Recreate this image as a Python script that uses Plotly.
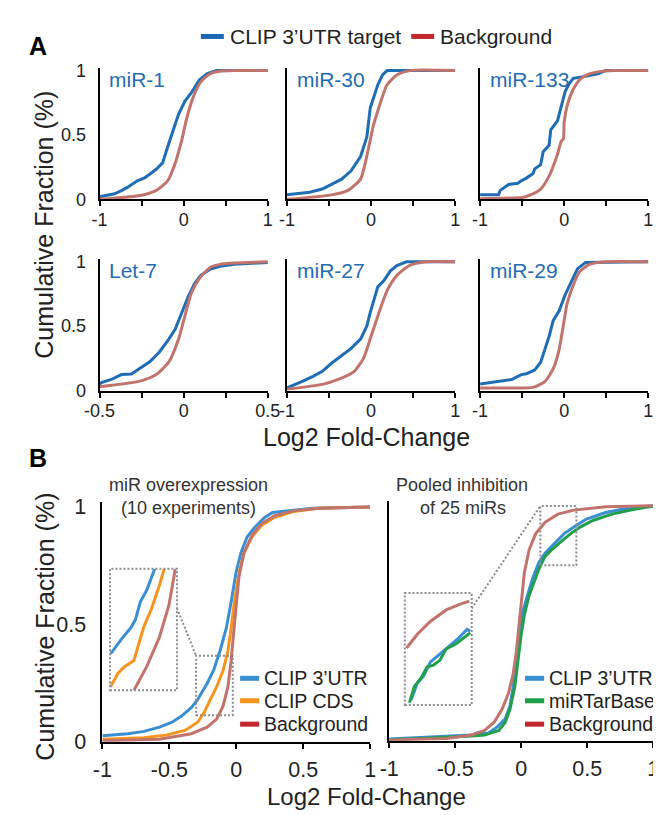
import plotly.graph_objects as go

# ---------------- data ----------------
# Panel A: cumulative fraction vs log2 fold-change, one pair of curves per miRNA
a_names = ["miR-1", "miR-30", "miR-133", "Let-7", "miR-27", "miR-29"]

mir1_clip_x = [-1, -0.82, -0.74, -0.67, -0.55, -0.46, -0.33, -0.25, -0.19, -0.14, -0.06, 0.015, 0.09, 0.185, 0.28, 0.39, 1.0]
mir1_clip_y = [0.02, 0.043, 0.068, 0.093, 0.144, 0.169, 0.232, 0.283, 0.409, 0.51, 0.662, 0.763, 0.826, 0.927, 0.977, 1.0, 1.0]
mir1_bg_x = [-1, -0.52, -0.33, -0.19, -0.1, -0.023, 0.034, 0.11, 0.205, 0.318, 0.43, 0.6, 1.0]
mir1_bg_y = [0.0, 0.03, 0.068, 0.144, 0.283, 0.46, 0.624, 0.788, 0.914, 0.977, 0.995, 1.0, 1.0]

mir30_clip_x = [-1, -0.73, -0.58, -0.47, -0.35, -0.24, -0.125, -0.05, -0.03, -0.01, 0.08, 0.136, 0.19, 1.0]
mir30_clip_y = [0.035, 0.056, 0.08, 0.119, 0.157, 0.22, 0.333, 0.485, 0.6, 0.71, 0.89, 0.967, 1.0, 1.0]
mir30_bg_x = [-1, -0.47, -0.28, -0.125, -0.07, -0.01, 0.03, 0.08, 0.19, 0.31, 0.46, 1.0]
mir30_bg_y = [0.0, 0.035, 0.068, 0.157, 0.28, 0.46, 0.58, 0.687, 0.89, 0.967, 1.0, 1.0]

mir133_clip_x = [-1, -0.78, -0.76, -0.74, -0.66, -0.62, -0.55, -0.51, -0.45, -0.37, -0.35, -0.28, -0.25, -0.18, -0.16, -0.08, -0.036, 0.012, 0.06, 0.108, 0.205, 0.3, 0.4, 0.49, 1.0]
mir133_clip_y = [0.035, 0.035, 0.07, 0.08, 0.116, 0.12, 0.125, 0.144, 0.165, 0.2, 0.237, 0.27, 0.37, 0.42, 0.54, 0.61, 0.73, 0.84, 0.9, 0.94, 0.95, 0.96, 0.975, 1.0, 1.0]
mir133_bg_x = [-1, -0.5, -0.42, -0.28, -0.18, -0.08, -0.036, -0.01, 0.0, 0.036, 0.108, 0.2, 0.3, 0.4, 0.6, 1.0]
mir133_bg_y = [0.005, 0.015, 0.03, 0.08, 0.18, 0.35, 0.45, 0.47, 0.6, 0.73, 0.855, 0.94, 0.975, 0.99, 1.0, 1.0]

let7_clip_x = [-0.5, -0.489, -0.43, -0.37, -0.31, -0.26, -0.2, -0.144, -0.087, -0.05, -0.011, 0.027, 0.064, 0.102, 0.159, 0.216, 0.3, 0.4, 0.5]
let7_clip_y = [0.05, 0.061, 0.086, 0.124, 0.129, 0.174, 0.225, 0.3, 0.401, 0.477, 0.603, 0.73, 0.83, 0.894, 0.944, 0.965, 0.98, 0.99, 0.995]
let7_bg_x = [-0.5, -0.26, -0.163, -0.087, -0.03, 0.007, 0.045, 0.093, 0.159, 0.216, 0.3, 0.5]
let7_bg_y = [0.03, 0.073, 0.124, 0.225, 0.401, 0.578, 0.755, 0.869, 0.957, 0.98, 0.99, 1.0]

mir27_clip_x = [-1, -0.94, -0.81, -0.69, -0.58, -0.47, -0.35, -0.24, -0.125, -0.05, -0.011, 0.03, 0.08, 0.155, 0.23, 0.307, 0.42, 1.0]
mir27_clip_y = [0.02, 0.035, 0.073, 0.11, 0.149, 0.212, 0.275, 0.326, 0.40, 0.502, 0.604, 0.7, 0.805, 0.856, 0.93, 0.97, 1.0, 1.0]
mir27_bg_x = [-1, -0.58, -0.39, -0.2, -0.09, -0.011, 0.08, 0.193, 0.307, 0.455, 0.65, 1.0]
mir27_bg_y = [0.01, 0.048, 0.086, 0.149, 0.25, 0.40, 0.578, 0.78, 0.894, 0.97, 1.0, 1.0]

mir29_clip_x = [-1, -0.78, -0.625, -0.51, -0.45, -0.35, -0.28, -0.23, -0.18, -0.13, -0.06, 0.012, 0.084, 0.157, 0.253, 1.0]
mir29_clip_y = [0.05, 0.073, 0.086, 0.124, 0.13, 0.16, 0.22, 0.32, 0.42, 0.545, 0.62, 0.745, 0.845, 0.945, 0.995, 1.0]
mir29_bg_x = [-1, -0.66, -0.37, -0.23, -0.13, -0.06, -0.012, 0.036, 0.108, 0.18, 0.3, 0.5, 1.0]
mir29_bg_y = [0.02, 0.02, 0.025, 0.07, 0.17, 0.32, 0.5, 0.68, 0.82, 0.92, 0.98, 1.0, 1.0]

# Panel B left: miR overexpression (10 experiments)
oe_utr_x = [-1, -0.81, -0.69, -0.574, -0.479, -0.407, -0.336, -0.288, -0.217, -0.169, -0.121, -0.074, -0.038, -0.002, 0.034, 0.081, 0.14, 0.212, 0.271, 0.379, 0.569, 1.0]
oe_utr_y = [0.025, 0.034, 0.044, 0.062, 0.083, 0.11, 0.145, 0.18, 0.249, 0.304, 0.387, 0.484, 0.595, 0.719, 0.802, 0.871, 0.913, 0.954, 0.975, 0.982, 0.993, 0.998]
oe_cds_x = [-1, -0.69, -0.526, -0.383, -0.288, -0.24, -0.193, -0.145, -0.098, -0.062, -0.038, -0.014, 0.021, 0.057, 0.117, 0.188, 0.283, 0.426, 0.617, 1.0]
oe_cds_y = [0.011, 0.017, 0.028, 0.048, 0.083, 0.124, 0.18, 0.235, 0.304, 0.387, 0.484, 0.595, 0.719, 0.802, 0.871, 0.92, 0.954, 0.979, 0.993, 0.998]
oe_bg_x = [-1, -0.574, -0.336, -0.217, -0.145, -0.098, -0.062, -0.038, -0.021, -0.002, 0.021, 0.057, 0.117, 0.188, 0.283, 0.426, 0.617, 1.0]
oe_bg_y = [0.004, 0.011, 0.034, 0.062, 0.097, 0.152, 0.235, 0.346, 0.456, 0.581, 0.705, 0.802, 0.878, 0.927, 0.961, 0.982, 0.993, 0.998]

# zoomed view of the left B panel
oe_zoom_utr_x = [-0.298, -0.293, -0.254, -0.215, -0.196, -0.176, -0.15, -0.117]
oe_zoom_utr_y = [0.19, 0.192, 0.219, 0.243, 0.26, 0.297, 0.321, 0.366]
oe_zoom_cds_x = [-0.298, -0.268, -0.241, -0.202, -0.163, -0.13, -0.098, -0.078]
oe_zoom_cds_y = [0.12, 0.148, 0.162, 0.175, 0.243, 0.283, 0.331, 0.366]
oe_zoom_bg_x = [-0.202, -0.15, -0.098, -0.059, -0.033]
oe_zoom_bg_y = [0.113, 0.162, 0.223, 0.29, 0.365]

# Panel B right: pooled inhibition of 25 miRs
inh_utr_x = [-1, -0.567, -0.375, -0.326, -0.254, -0.181, -0.121, -0.085, -0.06, -0.036, -0.012, 0.012, 0.048, 0.085, 0.133, 0.181, 0.254, 0.326, 0.399, 0.495, 0.64, 0.833, 1.0]
inh_utr_y = [0.007, 0.017, 0.024, 0.035, 0.031, 0.059, 0.093, 0.148, 0.231, 0.342, 0.452, 0.549, 0.618, 0.688, 0.757, 0.798, 0.84, 0.881, 0.909, 0.943, 0.971, 0.992, 1.0]
inh_tarbase_x = [-1, -0.567, -0.375, -0.278, -0.217, -0.169, -0.121, -0.085, -0.048, -0.024, 0.0, 0.024, 0.06, 0.097, 0.133, 0.181, 0.23, 0.302, 0.375, 0.447, 0.543, 0.688, 0.857, 1.0]
inh_tarbase_y = [0.003, 0.013, 0.02, 0.024, 0.035, 0.044, 0.079, 0.134, 0.231, 0.342, 0.452, 0.535, 0.618, 0.674, 0.729, 0.784, 0.812, 0.847, 0.881, 0.909, 0.937, 0.964, 0.985, 0.998]
inh_bg_x = [-1, -0.567, -0.375, -0.278, -0.205, -0.145, -0.096, -0.06, -0.036, -0.017, 0.0, 0.024, 0.06, 0.109, 0.181, 0.278, 0.399, 0.64, 1.0]
inh_bg_y = [0.003, 0.01, 0.024, 0.044, 0.079, 0.134, 0.203, 0.286, 0.383, 0.48, 0.591, 0.715, 0.812, 0.88, 0.929, 0.964, 0.981, 0.995, 1.0]

inh_zoom_utr_x = [0.171, 0.196, 0.223, 0.249, 0.288, 0.327, 0.366, 0.399, 0.412]
inh_zoom_utr_y = [0.758, 0.795, 0.813, 0.843, 0.861, 0.88, 0.898, 0.917, 0.913]
inh_zoom_tarbase_x = [0.164, 0.184, 0.21, 0.236, 0.262, 0.288, 0.314, 0.353, 0.386, 0.412]
inh_zoom_tarbase_y = [0.751, 0.788, 0.806, 0.832, 0.836, 0.847, 0.873, 0.884, 0.898, 0.909]
inh_zoom_bg_x = [0.152, 0.196, 0.249, 0.314, 0.366, 0.408]
inh_zoom_bg_y = [0.875, 0.906, 0.935, 0.961, 0.973, 0.981]

# zoom boxes (data coords of the B panels): [x0, x1, y0, y1]
oe_small_box = [-0.3, -0.026, 0.113, 0.366]
oe_big_box = [-0.943, -0.443, 0.219, 0.736]
inh_small_box = [0.145, 0.418, 0.746, 0.999]
inh_big_box = [-0.882, -0.375, 0.152, 0.628]

# ---------------- styling ----------------
W, H = 661, 815
FONT = "Liberation Sans, Arial, sans-serif"
A_BLUE = "#1f6db4"
A_RED = "#c2736c"
B_BLUE = "#3a8fd3"
B_ORANGE = "#f7941d"
B_GREEN = "#20a04b"
B_RED = "#c2736c"
LEG_RED = "#c1272d"
TXT = "#222222"
BOX = "#8c8c8c"


def fx(p):
    return p / W


def fy(p):
    return 1 - p / H


fig = go.Figure()
layout = {}


def add_axes(n, xpx, ypx0, ypx1, xrange, xt, xtt, ylabels, tickfont, xstand, ystand):
    # ypx0: pixel of y=0, ypx1: pixel of y=1
    per = ypx0 - ypx1
    top = ypx0 - 1.02 * per
    sfx = "" if n == 1 else str(n)
    layout["xaxis" + sfx] = dict(
        domain=[fx(xpx[0]), fx(xpx[1])], range=xrange, anchor="y" + sfx,
        showline=True, linecolor="black", linewidth=2,
        ticks="outside", ticklen=5, tickwidth=2, tickcolor="black",
        tickvals=xt, ticktext=xtt, showgrid=False, zeroline=False,
        tickfont=dict(family=FONT, size=tickfont, color=TXT), ticklabelstandoff=xstand)
    layout["yaxis" + sfx] = dict(
        domain=[fy(ypx0), fy(top)], range=[0, 1.02], anchor="x" + sfx,
        showline=True, linecolor="black", linewidth=2, ticks="",
        tickvals=[0, 0.5, 1], ticktext=["0", "0.5", "1"], showticklabels=ylabels,
        showgrid=False, zeroline=False, ticklabelstandoff=ystand,
        tickfont=dict(family=FONT, size=tickfont, color=TXT))


a_cols = [(79, 255), (275, 451), (477, 653)]
a_rows = [(189, 57), (385, 253)]
a_series = [
    (mir1_clip_x, mir1_clip_y, mir1_bg_x, mir1_bg_y),
    (mir30_clip_x, mir30_clip_y, mir30_bg_x, mir30_bg_y),
    (mir133_clip_x, mir133_clip_y, mir133_bg_x, mir133_bg_y),
    (let7_clip_x, let7_clip_y, let7_bg_x, let7_bg_y),
    (mir27_clip_x, mir27_clip_y, mir27_bg_x, mir27_bg_y),
    (mir29_clip_x, mir29_clip_y, mir29_bg_x, mir29_bg_y),
]

annotations = []
for i, (cx, cy, bx, by) in enumerate(a_series):
    n = i + 1
    r, c = divmod(i, 3)
    if a_names[i] == "Let-7":
        xr, xt, xtt = [-0.5, 0.5], [-0.5, -0.25, 0, 0.25, 0.5], ["-0.5", "", "0", "", "0.5"]
    else:
        xr, xt, xtt = [-1, 1], [-1, -0.5, 0, 0.5, 1], ["-1", "", "0", "", "1"]
    add_axes(n, a_cols[c], a_rows[r][0], a_rows[r][1], xr, xt, xtt, c == 0, 18, -2, 8)
    ref = "" if n == 1 else str(n)
    fig.add_trace(go.Scatter(x=cx, y=cy, mode="lines", xaxis="x" + ref, yaxis="y" + ref,
                             line=dict(color=A_BLUE, width=3), showlegend=False, hoverinfo="skip"))
    fig.add_trace(go.Scatter(x=bx, y=by, mode="lines", xaxis="x" + ref, yaxis="y" + ref,
                             line=dict(color=A_RED, width=3, shape="spline", smoothing=0.6),
                             showlegend=False, hoverinfo="skip"))
    annotations.append(dict(text=a_names[i], x=fx(a_cols[c][0] + 8), y=fy(a_rows[r][1] + 9),
                            xref="paper", yref="paper", xanchor="left", yanchor="middle",
                            showarrow=False, font=dict(family=FONT, size=21, color=A_BLUE)))

b_ticks = [-1, -0.5, 0, 0.5, 1]
b_tt = ["-1", "-0.5", "0", "0.5", "1"]
add_axes(7, (82, 362), 745, 504, [-1, 1], b_ticks, b_tt, True, 21.5, 2, 10)
add_axes(8, (382, 658), 744, 503, [-1, 1], b_ticks, b_tt, False, 21.5, 2, 10)


def data_to_px(x, y, xpx, ypx0, ypx1):
    return xpx[0] + (x + 1) / 2 * (xpx[1] - xpx[0]), ypx0 - y * (ypx0 - ypx1)


def add_inset(n, box, small, xpx, ypx0, ypx1):
    x0, y0 = data_to_px(box[0], box[2], xpx, ypx0, ypx1)
    x1, y1 = data_to_px(box[1], box[3], xpx, ypx0, ypx1)
    layout["xaxis%d" % n] = dict(domain=[fx(x0), fx(x1)], range=[small[0], small[1]],
                                 anchor="y%d" % n, visible=False)
    layout["yaxis%d" % n] = dict(domain=[fy(y0), fy(y1)], range=[small[2], small[3]],
                                 anchor="x%d" % n, visible=False)


add_inset(9, oe_big_box, oe_small_box, (82, 362), 745, 504)
add_inset(10, inh_big_box, inh_small_box, (382, 658), 744, 503)


def line(x, y, xa, ya, color):
    fig.add_trace(go.Scatter(x=x, y=y, mode="lines", xaxis=xa, yaxis=ya,
                             line=dict(color=color, width=3), showlegend=False, hoverinfo="skip"))


line(oe_utr_x, oe_utr_y, "x7", "y7", B_BLUE)
line(oe_cds_x, oe_cds_y, "x7", "y7", B_ORANGE)
line(oe_bg_x, oe_bg_y, "x7", "y7", B_RED)
line(oe_zoom_utr_x, oe_zoom_utr_y, "x9", "y9", B_BLUE)
line(oe_zoom_cds_x, oe_zoom_cds_y, "x9", "y9", B_ORANGE)
line(oe_zoom_bg_x, oe_zoom_bg_y, "x9", "y9", B_RED)

line(inh_utr_x, inh_utr_y, "x8", "y8", B_BLUE)
line(inh_tarbase_x, inh_tarbase_y, "x8", "y8", B_GREEN)
line(inh_bg_x, inh_bg_y, "x8", "y8", B_RED)
line(inh_zoom_utr_x, inh_zoom_utr_y, "x10", "y10", B_BLUE)
line(inh_zoom_tarbase_x, inh_zoom_tarbase_y, "x10", "y10", B_GREEN)
line(inh_zoom_bg_x, inh_zoom_bg_y, "x10", "y10", B_RED)

# dotted zoom boxes and connectors
shapes = []
dot = dict(color=BOX, width=2, dash="2px,2px")
for xa, ya, small, big, conn in [
    ("x7", "y7", oe_small_box, oe_big_box, (oe_big_box[1], 0.568, oe_small_box[0], oe_small_box[3])),
    ("x8", "y8", inh_small_box, inh_big_box, (inh_big_box[1], 0.563, inh_small_box[0], inh_small_box[3])),
]:
    for b in (small, big):
        shapes.append(dict(type="rect", xref=xa, yref=ya, x0=b[0], x1=b[1], y0=b[2], y1=b[3],
                           line=dot, layer="above"))
    shapes.append(dict(type="line", xref=xa, yref=ya, x0=conn[0], y0=conn[1], x1=conn[2], y1=conn[3],
                       line=dot, layer="above"))


def legend_item(x_line, y, color, text, size, length, gap=4):
    shapes.append(dict(type="line", xref="paper", yref="paper", x0=fx(x_line), x1=fx(x_line + length),
                       y0=fy(y), y1=fy(y), line=dict(color=color, width=5)))
    annotations.append(dict(text=text, x=fx(x_line + length + gap), y=fy(y), xref="paper", yref="paper",
                            xanchor="left", yanchor="middle", showarrow=False,
                            font=dict(family=FONT, size=size, color=TXT)))


legend_item(185, 22, "#1a68b3", "CLIP 3’UTR target", 21, 24)
legend_item(405, 22, LEG_RED, "Background", 21, 24)

for y, col, txt in [(680, B_BLUE, "CLIP 3’UTR"), (703, B_ORANGE, "CLIP CDS"), (727, LEG_RED, "Background")]:
    legend_item(226, y, col, txt, 19.5, 20, 3)
for y, col, txt in [(680, B_BLUE, "CLIP 3’UTR"), (703, B_GREEN, "miRTarBase"), (727, LEG_RED, "Background")]:
    legend_item(524, y, col, txt, 19.5, 20, 3)


def text(t, xp, yp, size, color=TXT, anchor="center", angle=0, bold=False):
    annotations.append(dict(text="<b>%s</b>" % t if bold else t, x=fx(xp), y=fy(yp),
                            xref="paper", yref="paper", xanchor=anchor, yanchor="middle",
                            showarrow=False, textangle=angle,
                            font=dict(family=FONT, size=size, color=color)))


text("A", 15, 32, 25, color="black", bold=True)
text("B", 15, 454, 25, color="black", bold=True)
text("Cumulative Fraction (%)", 21, 215, 25, angle=-90)
text("Cumulative Fraction (%)", 22, 627, 25, angle=-90)
text("Log2 Fold-Change", 358, 433, 25)
text("Log2 Fold-Change", 358, 801, 24)
text("miR overexpression", 172, 482, 18, color="#333333")
text("(10 experiments)", 172, 505, 18, color="#333333")
text("Pooled inhibition", 458, 482, 18, color="#333333")
text("of 25 miRs", 459, 505, 18, color="#333333")

layout.update(dict(width=W, height=H, margin=dict(l=0, r=0, t=0, b=0),
                   paper_bgcolor="white", plot_bgcolor="rgba(0,0,0,0)",
                   showlegend=False, annotations=annotations, shapes=shapes))
fig.update_layout(**layout)

fig.write_html("out.html")
